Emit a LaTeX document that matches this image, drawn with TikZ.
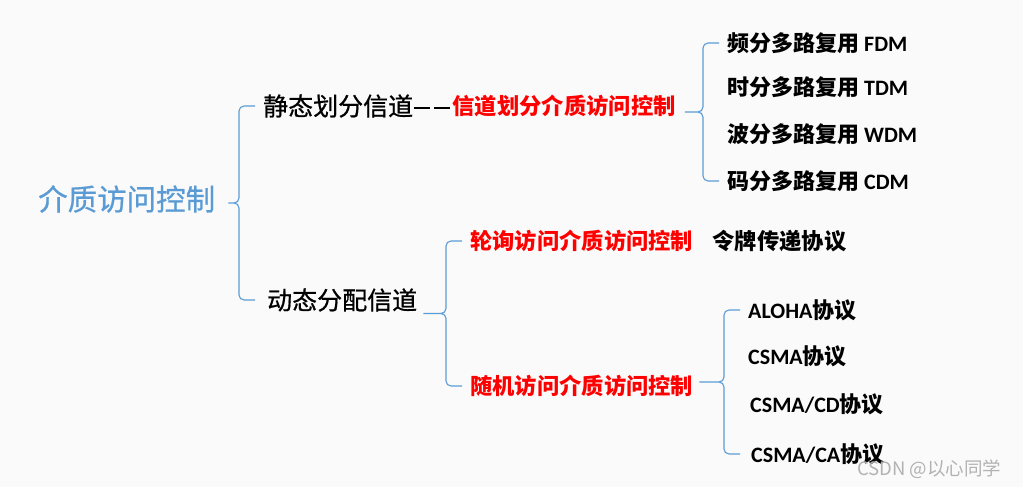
\documentclass[tikz,border=0pt]{standalone}
\usepackage{fontspec}
\setmainfont{Carlito}
\newfontfamily\cjk{Noto Sans CJK SC}
\newfontfamily\cjkmid{Noto Sans CJK SC}[FakeBold=0.7]
\usepackage{tikz}
\usetikzlibrary{calc,positioning}
\definecolor{rootblue}{RGB}{91,155,213}
\definecolor{bgpaper}{RGB}{250,250,250}
\tikzset{
	every node/.style={inner sep=0pt, anchor=west},
	rootnode/.style={font=\cjkmid\fontsize{29.5}{34}\selectfont, text=rootblue},
	channel/.style={font=\cjkmid\fontsize{25}{30}\selectfont, text=black},
	method/.style={font=\cjk\bfseries\fontsize{22.3}{26}\selectfont, text=red},
	leaf/.style={font=\bfseries\fontsize{22}{26}\selectfont, text=black},
	brace_line/.style={draw=rootblue, line width=1.1pt, rounded corners=5pt}
}
% brace from parent to first and last child
\newcommand{\bracket}[4]{%
	\draw[brace_line] let \p1 = (#2.east), \p2 = (#3.west), \p3 = (#4.west) in
		(\x2-8pt,\y2) -- (\x2-24pt,\y2) -- (\x2-24pt,{(\y2+\y3)/2}) -- (\x1+#1,{(\y2+\y3)/2})
		(\x1+#1,{(\y2+\y3)/2}) -- (\x2-24pt,{(\y2+\y3)/2}) -- (\x2-24pt,\y3) -- (\x2-8pt,\y3);
}
\newcommand{\dashpair}{\kern1pt\rule[6.5pt]{16pt}{1.8pt}\kern4pt\rule[6.5pt]{16pt}{1.8pt}\kern1pt}

\begin{document}
\begin{tikzpicture}[x=1pt,y=-1pt]
	\fill[bgpaper] (0,0) rectangle (1023,487);
	\useasboundingbox (0,0) rectangle (1023,487);
	\node[rootnode] (mac) at (38,199) {介质访问控制};
	\node[channel] (static) at (263,106) {静态划分信道\dashpair};
	\node[method] (chdiv) [right=1pt of static] {信道划分介质访问控制};
	\node[leaf] (fdm) at (727,43) {{\cjk 频分多路复用} \textbf{FDM}};
	\node[leaf] (tdm) at (727,87) {{\cjk 时分多路复用} \textbf{TDM}};
	\node[leaf] (wdm) at (727,134) {{\cjk 波分多路复用} \textbf{WDM}};
	\node[leaf] (cdm) at (727,181) {{\cjk 码分多路复用} \textbf{CDM}};
	\node[channel] (dynamic) at (267,300) {动态分配信道};
	\node[method] (poll) at (470,241) {轮询访问介质访问控制};
	\node[leaf,font=\cjk\bfseries\fontsize{22.3}{26}\selectfont] (token) [right=19pt of poll] {令牌传递协议};
	\node[method] (random) at (470,386) {随机访问介质访问控制};
	\node[leaf] (aloha) at (748,310) {ALOHA{\cjk 协议}};
	\node[leaf] (csma) at (748,356) {CSMA{\cjk 协议}};
	\node[leaf] (csmacd) at (750,404) {CSMA/CD{\cjk 协议}};
	\node[leaf] (csmaca) at (751,454) {CSMA/CA{\cjk 协议}};
	\node[font=\cjk\fontsize{18.5}{22}\selectfont, text=black!30] (mark) at (857,469) {CSDN @以心同学};
	\bracket{13pt}{mac}{static}{dynamic}
	\bracket{9pt}{chdiv}{fdm}{cdm}
	\bracket{6pt}{dynamic}{poll}{random}
	\bracket{6pt}{random}{aloha}{csmaca}
\end{tikzpicture}
\end{document}
